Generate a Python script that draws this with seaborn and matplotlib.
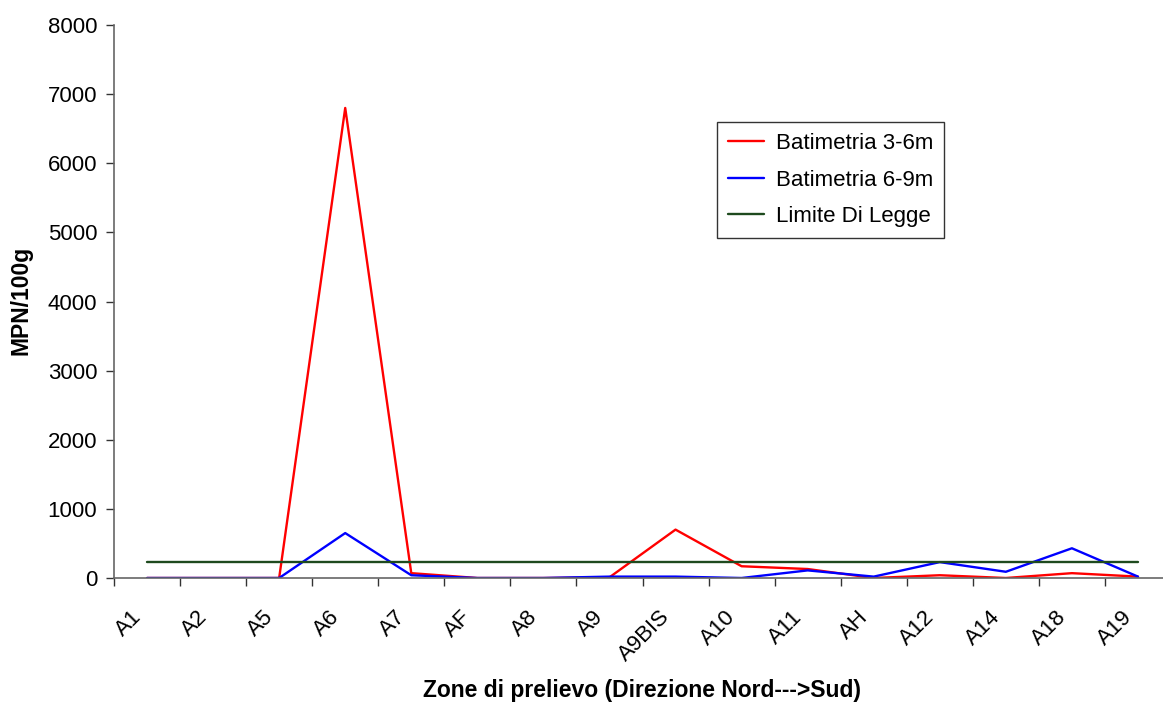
import matplotlib
matplotlib.use("Agg")
import matplotlib.pyplot as plt
import matplotlib.transforms as mtransforms
import seaborn as sns
import pandas as pd
import numpy as np

categories = ["A1", "A2", "A5", "A6", "A7", "AF", "A8", "A9", "A9BIS", "A10",
              "A11", "AH", "A12", "A14", "A18", "A19"]
bat_3_6 = [0, 0, 0, 6800, 70, 0, 0, 10, 700, 170, 130, 0, 40, 0, 70, 20]
bat_6_9 = [0, 0, 0, 650, 40, 0, 0, 20, 20, 0, 110, 20, 230, 90, 430, 20]
limite = [230] * len(categories)

sns.set_theme(style="white")
plt.rcParams['font.family'] = ['Liberation Sans', 'DejaVu Sans']
plt.rcParams['text.color'] = 'black'

fig = plt.figure(figsize=(11.63, 7.04), dpi=100)
W, H = 1163, 704
left, right, top, bottom = 114, 1171, 25, 578
ax = fig.add_axes([left / W, 1 - bottom / H, (right - left) / W, (bottom - top) / H])

x = np.arange(len(categories))
df = pd.DataFrame({
    "x": np.tile(x, 3),
    "val": bat_3_6 + bat_6_9 + limite,
    "serie": ["Batimetria 3-6m"] * len(x) + ["Batimetria 6-9m"] * len(x) + ["Limite Di Legge"] * len(x),
})
palette = {"Batimetria 3-6m": "#ff0000", "Batimetria 6-9m": "#0000ff", "Limite Di Legge": "#1e4a1e"}
sns.lineplot(data=df, x="x", y="val", hue="serie", palette=palette, ax=ax,
             linewidth=1.7, legend=True)

ax.set_xlim(-0.5, len(categories) - 0.5)
ax.set_ylim(0, 8000)
ax.set_yticks(np.arange(0, 8001, 1000))
ax.set_yticklabels([str(v) for v in range(0, 8001, 1000)], fontsize=16, color="black")

# category labels, rotated, placed at each category centre
ax.set_xticks(x)
ax.set_xticklabels([""] * len(categories))
offset = mtransforms.ScaledTranslation(-9 / 100, -36 / 100, fig.dpi_scale_trans)
for i, c in enumerate(categories):
    ax.text(i, 0, c, transform=ax.get_xaxis_transform() + offset, rotation=45,
            ha="right", va="center", rotation_mode="anchor", fontsize=16, color="black")

ax.set_xticks(np.arange(-0.5, len(categories), 1), minor=True)
ax.tick_params(axis="x", which="major", length=0, bottom=True)
ax.tick_params(axis="x", which="minor", length=6, width=1, color="#333333", direction="out", bottom=True)
ax.tick_params(axis="y", which="major", length=6, width=1, color="#333333", direction="out", left=True, pad=6)

for s in ["top", "right"]:
    ax.spines[s].set_visible(False)
for s in ["left", "bottom"]:
    ax.spines[s].set_color("#666666")
    ax.spines[s].set_linewidth(1.2)

ax.set_xlabel("Zone di prelievo (Direzione Nord--->Sud)", fontsize=16.5, fontweight="bold", color="black")
ax.set_ylabel("MPN/100g", fontsize=16.5, fontweight="bold", color="black")
ax.xaxis.set_label_coords((642 - left) / (right - left), -(679 - bottom) / (bottom - top))
ax.yaxis.set_label_coords((33 - left) / (right - left), (578 - 300) / (bottom - top))

leg = ax.legend(loc="upper left", bbox_to_anchor=((717 - left) / (right - left), 1 - (122 - top) / (bottom - top)),
                frameon=True, fancybox=False, fontsize=16, title=None,
                handlelength=1.6, borderpad=0.5, labelspacing=0.7, handletextpad=0.55,
                borderaxespad=0.0)
leg.get_frame().set_edgecolor("black")
leg.get_frame().set_linewidth(1.0)
for t in leg.get_texts():
    t.set_color("black")

fig.savefig("out.png", dpi=100)
